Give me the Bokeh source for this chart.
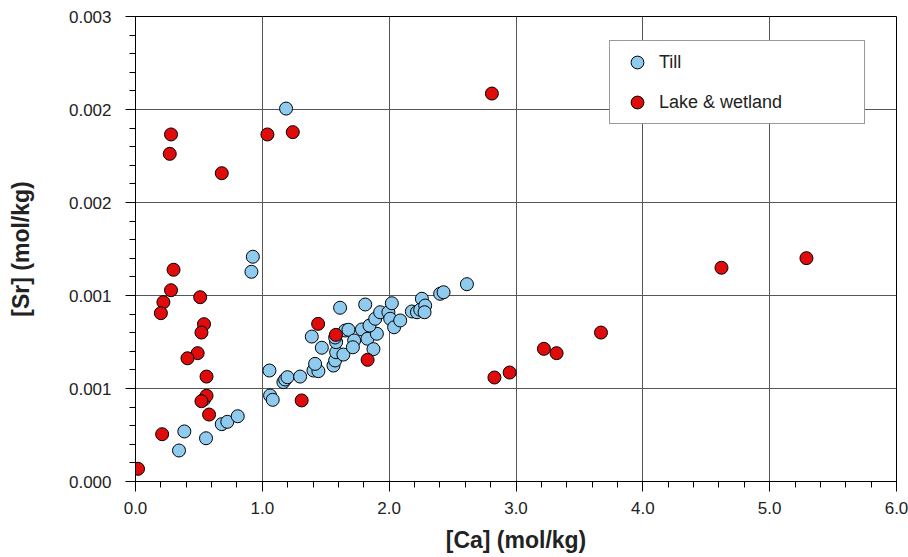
from bokeh.plotting import figure
from bokeh.models import (FixedTicker, NumeralTickFormatter,
                          Legend, LegendItem, Range1d)
from bokeh.embed import file_html
from bokeh.resources import INLINE

# ---- data ----
till_ca = [1.187, 0.925, 0.914, 0.385, 0.343, 0.556, 0.680, 0.724, 0.806, 0.540,
           1.056, 1.061, 1.082, 1.166, 1.180, 1.198, 1.298, 1.403, 1.442, 1.416,
           1.390, 1.469, 1.613, 1.561, 1.574, 1.582, 1.639, 1.582, 1.574, 1.653,
           1.679, 1.724, 1.714, 1.811, 1.785, 1.829, 1.876, 1.903, 1.845, 1.890,
           1.929, 1.994, 2.021, 2.008, 2.039, 2.087, 2.179, 2.219, 2.258, 2.245,
           2.284, 2.279, 2.402, 2.429, 2.613]
till_sr = [0.002406, 0.001450, 0.001353, 0.000323, 0.000200, 0.000279, 0.000370, 0.000385, 0.000421, 0.000529,
           0.000716, 0.000555, 0.000527, 0.000641, 0.000658, 0.000673, 0.000677, 0.000716, 0.000712, 0.000759,
           0.000935, 0.000863, 0.001121, 0.000748, 0.000781, 0.000834, 0.000819, 0.000899, 0.000929, 0.000974,
           0.000979, 0.000910, 0.000866, 0.001142, 0.000981, 0.000921, 0.000854, 0.000953, 0.001006, 0.001050,
           0.001092, 0.001092, 0.001150, 0.001050, 0.000995, 0.001039, 0.001097, 0.001092, 0.001179, 0.001108,
           0.001135, 0.001092, 0.001211, 0.001221, 0.001273]

lake_ca = [0.02, 0.21, 0.30, 0.28, 0.22, 0.20, 0.51, 0.54, 0.52, 0.49,
           0.41, 0.56, 0.56, 0.52, 0.58, 0.28, 0.27, 0.68, 1.04, 1.24,
           2.81, 1.44, 1.58, 1.83, 1.31, 2.83, 2.95, 3.22, 3.32, 3.67,
           4.62, 5.29]
lake_sr = [0.000082, 0.000305, 0.001366, 0.001234, 0.001157, 0.001086, 0.001189, 0.001015, 0.000961, 0.000828,
           0.000795, 0.000677, 0.000553, 0.000518, 0.000432, 0.002239, 0.002114, 0.001989, 0.002239, 0.002254,
           0.002503, 0.001017, 0.000946, 0.000785, 0.000523, 0.000671, 0.000703, 0.000856, 0.000828, 0.000961,
           0.001379, 0.001441]

x_ticks = [0, 1, 2, 3, 4, 5, 6]
y_ticks = [0.0, 0.0006, 0.0012, 0.0018, 0.0024, 0.003]
x_minor = [i * 0.2 for i in range(31)]
y_minor = [i * 0.00012 for i in range(26)]

FONT = "Liberation Sans"
TILL_COLOR = "#8FCBEF"
LAKE_COLOR = "#E00B0B"

p = figure(width=908, height=557, output_backend="svg", toolbar_location=None,
           x_range=Range1d(0, 6), y_range=Range1d(0, 0.003),
           min_border_left=135, min_border_right=12, min_border_top=16,
           min_border_bottom=76)
p.background_fill_color = "white"
p.border_fill_color = "white"
p.outline_line_color = "black"
p.outline_line_width = 1

r_till = p.scatter(till_ca, till_sr, size=13, fill_color=TILL_COLOR,
                   line_color="black", line_width=1)
r_lake = p.scatter(lake_ca, lake_sr, size=13, fill_color=LAKE_COLOR,
                   line_color="black", line_width=1)

p.xaxis.ticker = FixedTicker(ticks=x_ticks, minor_ticks=x_minor)
p.yaxis.ticker = FixedTicker(ticks=y_ticks, minor_ticks=y_minor)
p.xaxis.formatter = NumeralTickFormatter(format="0.0")
p.yaxis.formatter = NumeralTickFormatter(format="0.000")

for ax in (p.xaxis, p.yaxis):
    ax.major_tick_in = 0
    ax.major_tick_out = 10
    ax.minor_tick_in = 0
    ax.minor_tick_out = 6
    ax.axis_line_color = "black"
    ax.major_tick_line_color = "black"
    ax.minor_tick_line_color = "black"
    ax.major_label_text_font = FONT
    ax.major_label_text_font_size = "17px"
    ax.major_label_text_color = "#222222"
    ax.axis_label_text_font = FONT
    ax.axis_label_text_font_size = "23px"
    ax.axis_label_text_font_style = "bold"
    ax.axis_label_text_color = "#222222"

p.xaxis.axis_label = "[Ca] (mol/kg)"
p.yaxis.axis_label = "[Sr] (mol/kg)"
p.xaxis.major_label_standoff = 10
p.xaxis.axis_label_standoff = 10
p.yaxis.major_label_standoff = 14
p.yaxis.axis_label_standoff = 32

p.xgrid.grid_line_color = "#555555"
p.ygrid.grid_line_color = "#555555"
p.xgrid.grid_line_width = 1
p.ygrid.grid_line_width = 1

legend = Legend(items=[LegendItem(label="Till", renderers=[r_till]),
                       LegendItem(label="Lake & wetland", renderers=[r_lake])],
                location=(474, 357))
legend.label_text_font = FONT
legend.label_text_font_size = "18px"
legend.label_text_color = "#222222"
legend.border_line_color = "#333333"
legend.border_line_width = 1
legend.background_fill_color = "white"
legend.background_fill_alpha = 1
legend.padding = 5
legend.spacing = 8
legend.glyph_width = 44
legend.glyph_height = 32
legend.label_height = 32
legend.label_standoff = 0
legend.label_width = 200
legend.margin = 0
p.add_layout(legend, "center")

open("out.html", "w").write(file_html(p, INLINE))
